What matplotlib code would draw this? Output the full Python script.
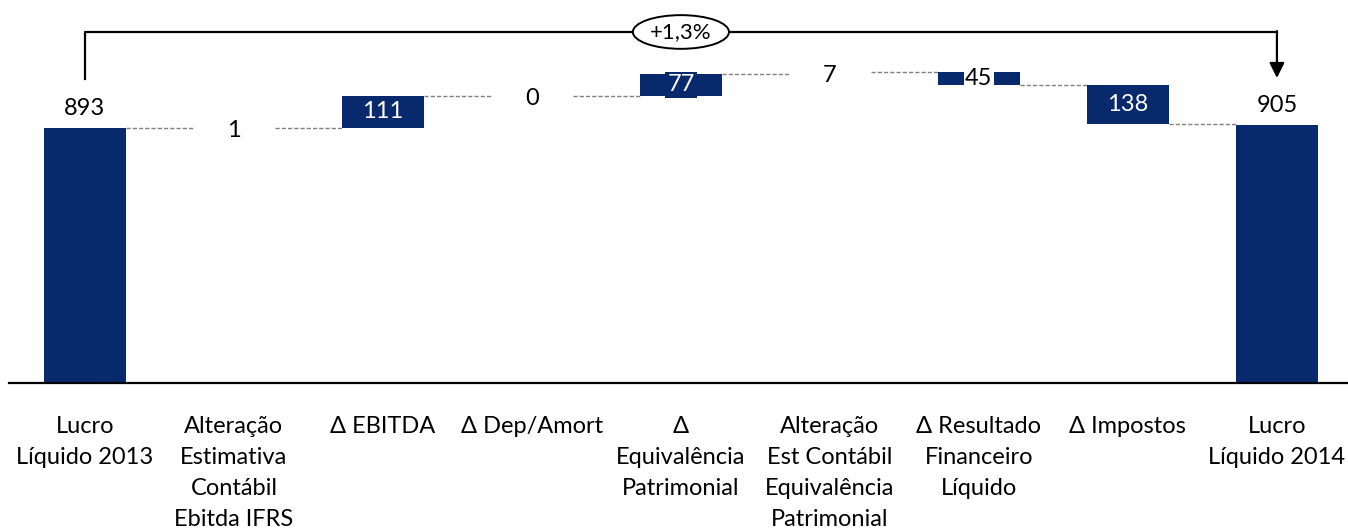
import matplotlib.pyplot as plt
from matplotlib.patches import Ellipse

plt.rcParams['font.family'] = ['Lato', 'DejaVu Sans']

# Dados (R$ milhões)
categorias = ["Lucro\nLíquido 2013",
              "Alteração\nEstimativa\nContábil\nEbitda IFRS",
              "Δ EBITDA",
              "Δ Dep/Amort",
              "Δ\nEquivalência\nPatrimonial",
              "Alteração\nEst Contábil\nEquivalência\nPatrimonial",
              "Δ Resultado\nFinanceiro\nLíquido",
              "Δ Impostos",
              "Lucro\nLíquido 2014"]
variacoes = [893, 1, 111, 0, 77, 7, -45, -138, 905]
rotulos = ["893", "1", "111", "0", "77", "7", "45", "138", "905"]
variacao_pct = "+1,3%"

azul = '#08296B'
largura = 0.55

fig = plt.figure(figsize=(13.48, 5.30), dpi=100)
ax = fig.add_axes([0, 0, 1, 1])
ax.set_xlim(-0.57, 8.477)
ax.set_ylim(-515, 1341)
ax.axis('off')

# base e topo de cada barra
bases, topos = [], []
acum = 0
for i, v in enumerate(variacoes):
    if i == 0 or i == len(variacoes) - 1:
        bases.append(0)
        topos.append(v)
        acum = v
    else:
        bases.append(acum)
        acum = acum + v
        topos.append(acum)

pequenos = ("1", "0", "7")  # barras pequenas ficam ocultas no original

for i in range(len(variacoes)):
    b, t = bases[i], topos[i]
    cor = 'white' if rotulos[i] in pequenos else azul
    ax.bar(i, abs(t - b), bottom=min(b, t), width=largura, color=cor, zorder=2)

# conectores tracejados
for i in range(len(variacoes) - 1):
    nivel = topos[i]
    ax.plot([i + largura / 2, i + 1 - largura / 2], [nivel, nivel],
            ls=(0, (3, 1.5)), color='#808080', lw=1, zorder=1)

# rótulos
fs = 17
for i, r in enumerate(rotulos):
    b, t = bases[i], topos[i]
    meio = (b + t) / 2
    if i in (0, len(variacoes) - 1):
        ax.text(i, t + 30, r, ha='center', va='bottom', fontsize=fs)
    elif r in ("111", "138", "77"):
        ax.text(i, meio, r, ha='center', va='center', fontsize=fs, color='white',
                bbox=dict(facecolor=azul, edgecolor='none', pad=1.5), zorder=3)
    elif r == "45":
        ax.text(i, meio, r, ha='center', va='center', fontsize=fs, color='black',
                bbox=dict(facecolor='white', edgecolor='none', pad=1), zorder=3)
    else:
        ax.text(i, meio - 10, r, ha='center', va='center', fontsize=fs, color='black')

# categorias
for i, c in enumerate(categorias):
    ax.text(i, -115, c, ha='center', va='top', fontsize=fs, linespacing=1.6)

# linha de base
ax.plot([-0.51, 8.477], [0, 0], color='black', lw=1.6, zorder=3)

# colchete com variação
y_top = 1229
ax.plot([0, 0, 8], [1063, y_top, y_top], color='black', lw=1.6, zorder=3)
ax.annotate('', xy=(8, 1068), xytext=(8, y_top + 3),
            arrowprops=dict(arrowstyle='-|>,head_width=0.45,head_length=0.9',
                            color='black', lw=1.6, shrinkA=0, shrinkB=0))
ax.add_patch(Ellipse((4, y_top), 0.645, 118, facecolor='white',
                     edgecolor='black', lw=1.4, zorder=4))
ax.text(4, y_top, variacao_pct, ha='center', va='center', fontsize=16, zorder=5)

fig.savefig('out.png', dpi=100)
